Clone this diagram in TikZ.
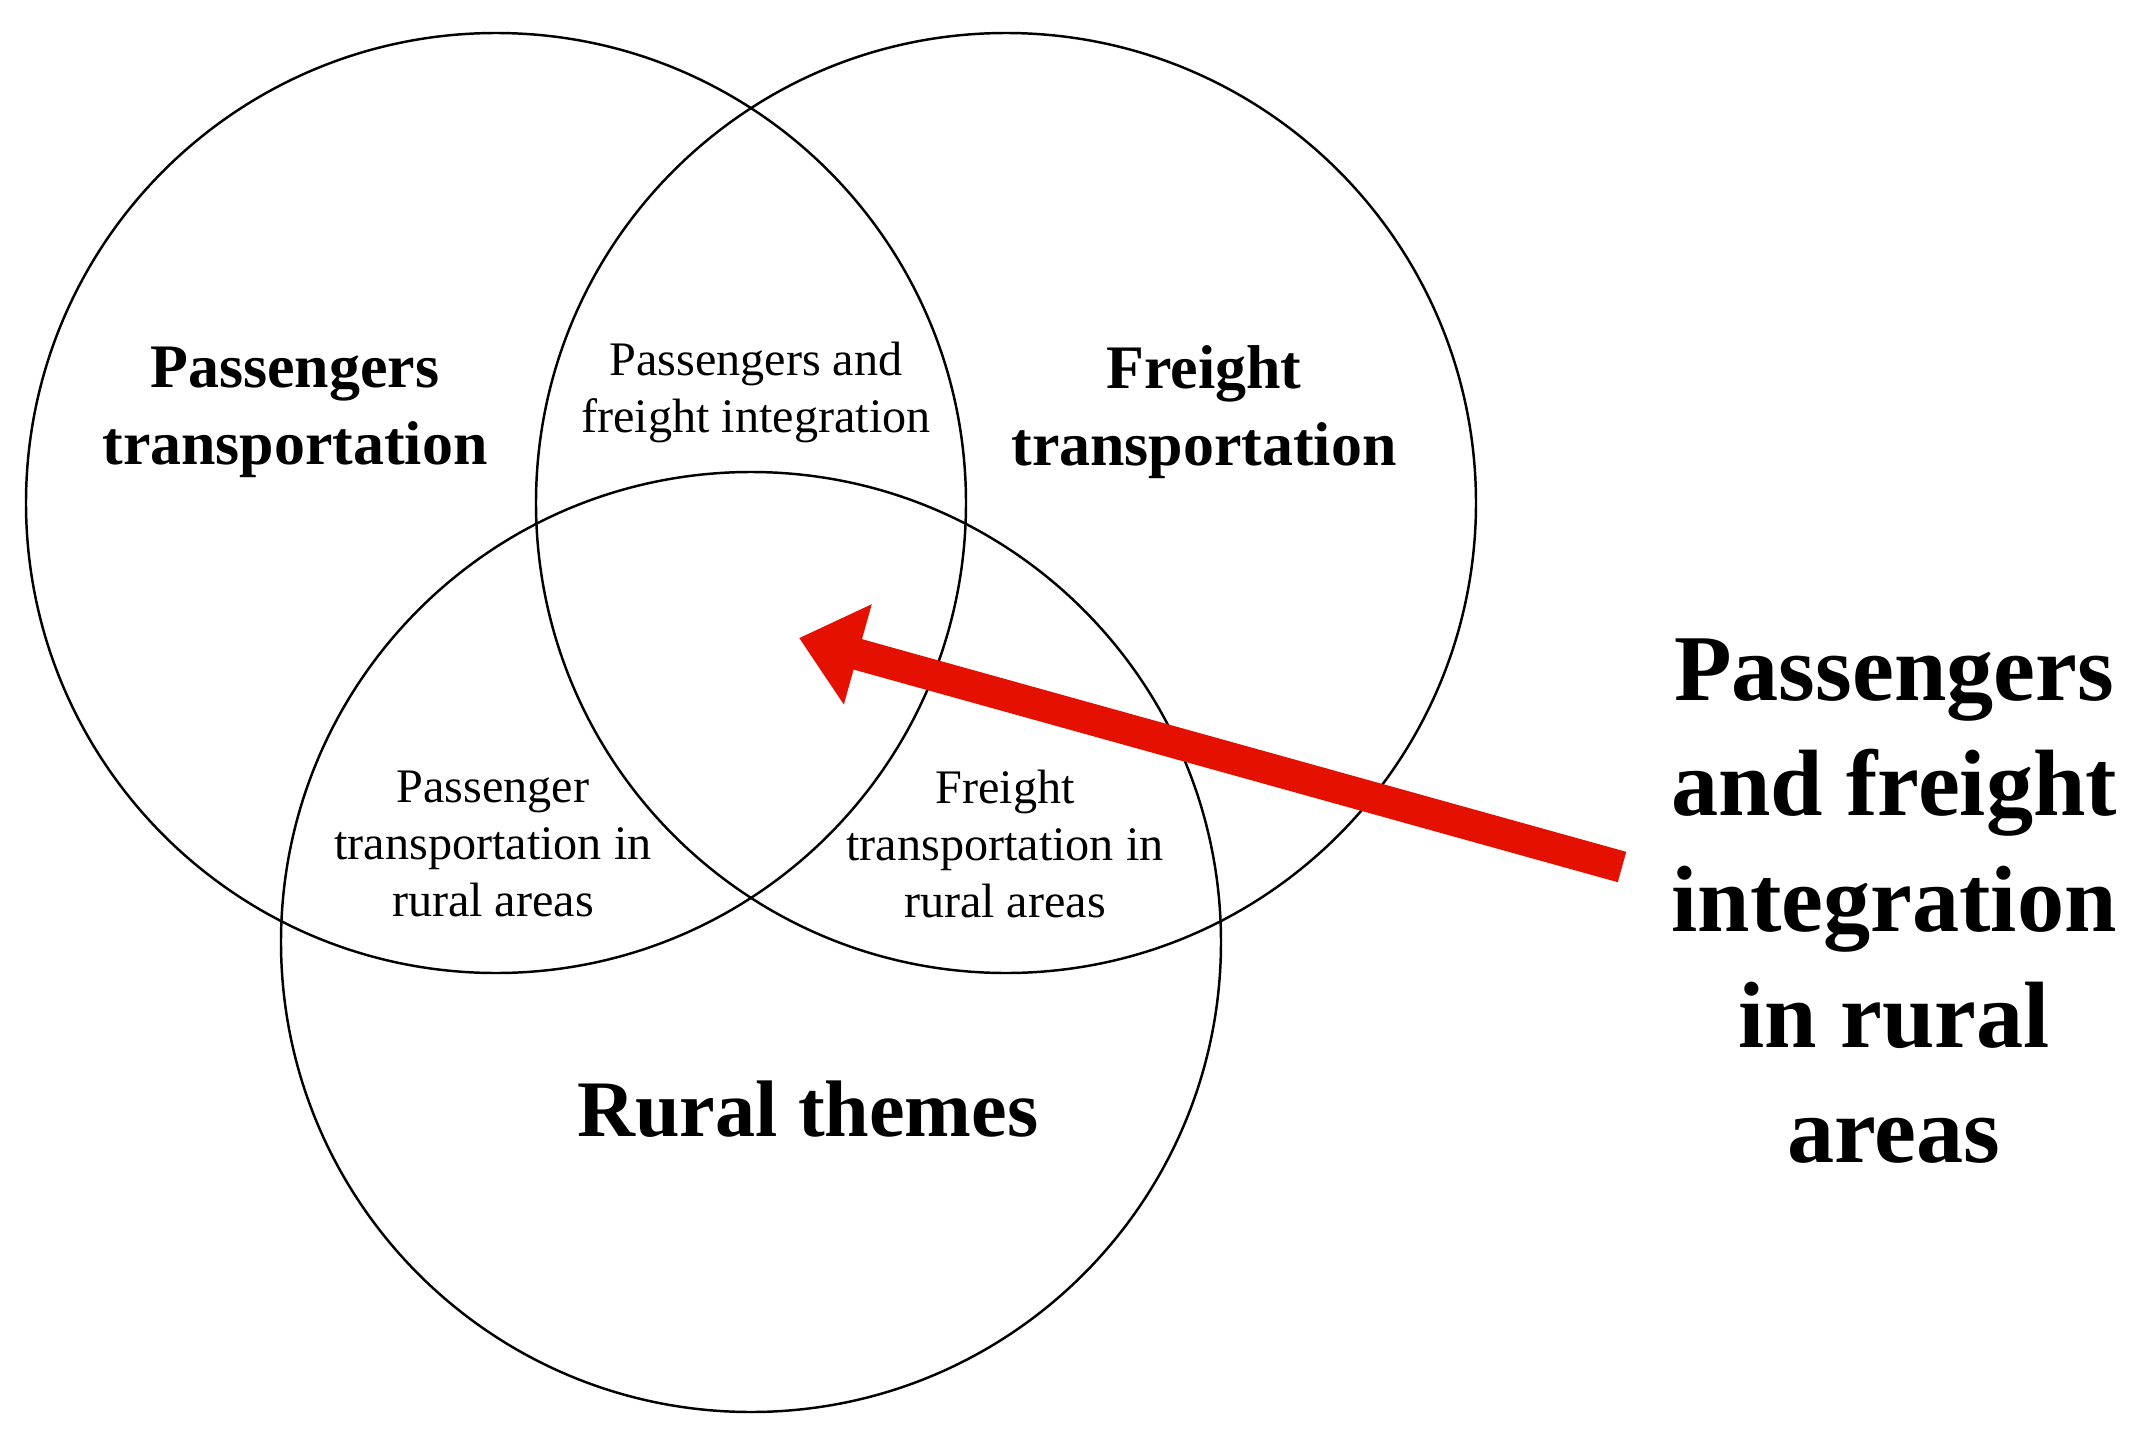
\documentclass[tikz,border=0pt]{standalone}
\usepackage{fontspec}
\setmainfont{Liberation Serif}
\usetikzlibrary{arrows.meta}
\definecolor{arrowred}{RGB}{228,16,0}
\begin{document}
\begin{tikzpicture}[x=0.01cm,y=-0.01cm,
  venn/.style={draw=black, line width=0.7pt},
  setlabel/.style={font=\bfseries\fontsize{17.6}{21.9}\selectfont, align=center, inner sep=0pt},
  interlabel/.style={font=\fontsize{13.7}{16.2}\selectfont, align=center, inner sep=0pt},
  themelabel/.style={font=\bfseries\fontsize{22.8}{27}\selectfont, align=center, inner sep=0pt},
  sidelabel/.style={font=\bfseries\fontsize{26.8}{32.9}\selectfont, align=center, inner sep=0pt},
  bigarrow/.style={draw=arrowred, line width=0.315cm,
    -{Triangle[length=0.61cm, width=1.0cm, fill=arrowred]}}]
\fill[white] (0,0) rectangle (2147,1454);
\useasboundingbox (0,0) rectangle (2147,1454);
% circles
\draw[venn] (496,503) circle[radius=470];
\draw[venn] (1006,503) circle[radius=470];
\draw[venn] (751,942) circle[radius=470];
% labels
\node[setlabel] (pt) at (295,412) {Passengers\\transportation};
\node[setlabel] (ft) at (1204,412) {Freight\\transportation};
\node[interlabel] (pfi) at (756,392) {Passengers and\\freight integration};
\node[interlabel] (ptr) at (493,844) {Passenger\\transportation in\\rural areas};
\node[interlabel] (ftr) at (1005,844) {Freight\\transportation in\\rural areas};
\node[themelabel] (rt) at (808,1109) {Rural themes};
\node[sidelabel] (side) at (1894,901) {Passengers\\and freight\\integration\\in rural\\areas};
% arrow
\coordinate (atail) at (1622,867);
\coordinate (atip) at (799,638);
\draw[bigarrow] (atail) -- (atip);
\end{tikzpicture}
\end{document}
